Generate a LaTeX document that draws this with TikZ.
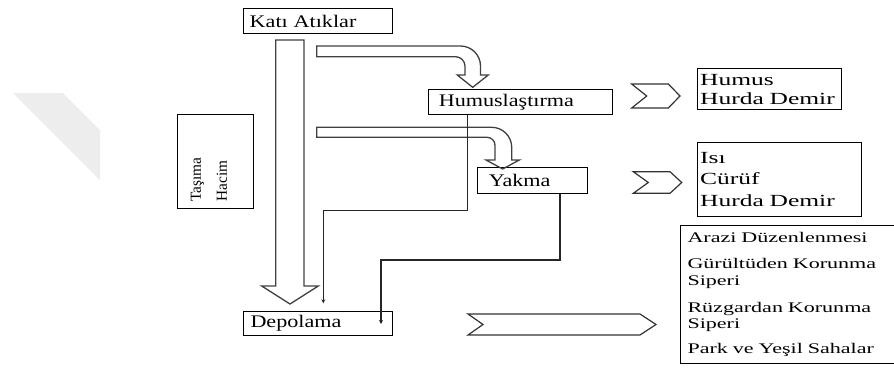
\documentclass[tikz,border=0pt]{standalone}
\usepackage{fontspec}
\setmainfont{Liberation Serif}
\newfontfamily\boxfont{Liberation Serif}[FakeStretch=1.25]
\newfontfamily\listfont{Liberation Serif}[FakeStretch=1.5]
\usetikzlibrary{arrows.meta}

\begin{document}
\begin{tikzpicture}[x=1pt,y=-1pt,
		box/.style={draw,line width=1pt,anchor=north west,inner xsep=6.5pt,inner ysep=0pt,align=left,font=\boxfont\fontsize{17.7}{20}\selectfont},
		listbox/.style={draw,line width=1pt,anchor=north west,inner xsep=3pt,inner ysep=0pt,align=left},
		bigarrow/.style={draw=black!75,line width=1.3pt},
		thinarrow/.style={draw=black!85,line width=1.2pt,-{Stealth[length=4pt,width=4pt]}},
		chevron/.style={draw=black!80,line width=1.2pt}]
				\useasboundingbox (0,0) rectangle (894,367);
				\fill [black!7] (13,93)-- (63,93)-- (100,130)-- (100,180)-- cycle;
				% boxes
				\node [box,text width=136pt,minimum height=25pt] (kati) at (242.7,8.3) {Katı Atıklar};
				\node [box,inner xsep=10pt,text width=164pt,minimum height=25pt] (humuslastirma) at (428.3,89.3) {Humuslaştırma};
				\node [box,inner xsep=11.6pt,text width=86.8pt,minimum height=26pt] (yakma) at (476.7,166.7) {Yakma};
				\node [box,inner xsep=7.3pt,text width=134.4pt,minimum height=24.3pt] (depolama) at (242.7,310.7) {Depolama};
				\node [box,minimum width=76.6pt,minimum height=94pt] (tasima) at (176.7,114.3) {};
				\node [rotate=90,align=left,inner sep=0pt,font=\fontsize{15.3}{26}\selectfont] (tasimayazi) at (209,179.5) {Taşıma\\Hacim};
				\node [listbox,text width=138pt,minimum height=41pt,font=\listfont\fontsize{17}{19}\selectfont] (humus) at (696.7,68.3) {Humus\\Hurda Demir};
				\node [listbox,text width=158pt,minimum height=74.3pt,font=\listfont\fontsize{17}{21.7}\selectfont] (isi) at (696.7,141.7) {Isı\\Cürüf\\Hurda Demir};
				\node [listbox,inner xsep=7pt,text width=199.5pt,minimum height=137.7pt,font=\listfont\fontsize{14.7}{16.3}\selectfont] (arazi) at (680,225) {Arazi Düzenlenmesi\\[10pt]Gürültüden Korunma\\Siperi\\[11pt]Rüzgardan Korunma\\Siperi\\[8pt]Park ve Yeşil Sahalar};
				% block arrows
				\draw [bigarrow] (275.7,40)-- (304,40)-- (304,286)-- (318.3,286)-- (290,304)-- (261.7,286)-- (275.7,286)-- cycle;
				\draw [bigarrow] (316.7,46)-- (460.5,46) .. controls (471.5,46) and (480.5,55) .. (480.5,66)-- (480.5,75)-- (488.3,75)-- (472.7,87.3)-- (457.3,75)-- (465,75)-- (465,66.2) .. controls (465,61) and (460.7,56.7) .. (455.5,56.7)-- (316.7,56.7)-- cycle;
				\draw [bigarrow] (316.7,127.3)-- (491.7,127.3) .. controls (502.7,127.3) and (511.7,136.3) .. (511.7,147.3)-- (511.7,160)-- (519.3,160)-- (502.7,169)-- (486,160)-- (495,160)-- (495,145.3) .. controls (495,140.9) and (491.4,137.3) .. (487,137.3)-- (316.7,137.3)-- cycle;
				% connectors
				\draw [thinarrow] ([xshift=39.4pt]humuslastirma.south west)-- ++(0,95) -| ([xshift=80.6pt,yshift=7.4pt]depolama.north west);
				\draw [thinarrow] ([xshift=83.3pt]yakma.south west)-- ++(0,66.3) -| ([xshift=138.3pt,yshift=-13.3pt]depolama.north west);
				% chevrons
				\draw [chevron] (631.7,84)-- (668.3,84)-- (680,96)-- (668.3,108)-- (631.7,108)-- (646.7,96)-- cycle;
				\draw [chevron] (633.3,171.7)-- (670,171.7)-- (681.7,182.5)-- (670,193.3)-- (633.3,193.3)-- (648.3,182.5)-- cycle;
				\draw [chevron] (468,314)-- (640,314)-- (656,324.5)-- (640,335)-- (468,335)-- (483,324.5)-- cycle;
\end{tikzpicture}
\end{document}
